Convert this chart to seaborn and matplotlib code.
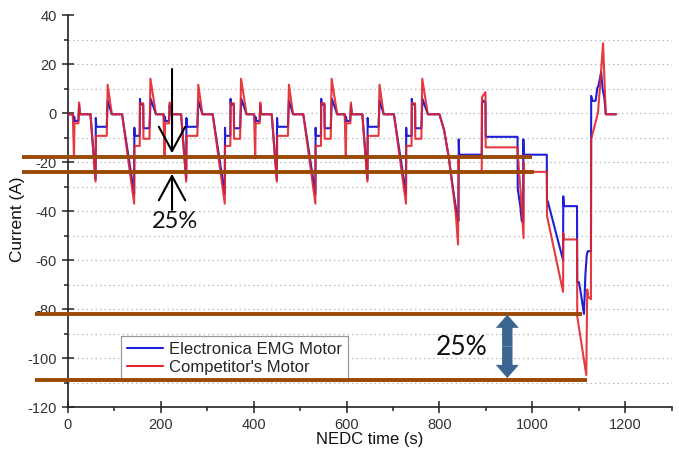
import numpy as np
import pandas as pd
import matplotlib
matplotlib.use("Agg")
import matplotlib.pyplot as plt
import seaborn as sns
from matplotlib.ticker import MultipleLocator

# ---------------- data ----------------
# ECE-15 urban sub-cycle (195 s); NEDC repeats it four times
ece_t_blue = [0, 11, 13.5, 14, 15, 23, 24.5, 26.5, 49, 60, 60.5, 61.5, 84, 86, 95,
              117, 143, 143.5, 144, 155, 155.5, 156.5, 162.5, 163, 176, 178.5, 190, 195]
ece_blue = [-0.5, -0.5, -3.5, -1.5, -3.2, -3.2, 3.2, -0.5, -0.5, -27, -2, -5.6, -5.6, 5, -0.5,
            -0.5, -33, -6, -9.3, -9.3, 5.8, 3.5, 3.5, -6.2, -6.2, 5.8, -0.5, -0.5]
ece_t_red = [0, 11, 13.5, 14.5, 23, 24.5, 26.5, 49, 60, 61, 84, 86, 95,
             117, 143, 143.5, 155, 155.5, 162.5, 163, 176, 178, 190, 195]
ece_red = [-0.5, -0.5, -18.5, -4.2, -4.2, 4.3, -0.5, -0.5, -28, -9.3, -9.3, 11.6, -0.5,
           -0.5, -37, -13.4, -13.4, 4, 4, -10.5, -10.5, 14, -0.5, -0.5]
ece_starts = [0, 195, 390, 585]

# EUDC extra-urban part (absolute time, s)
eudc_t_blue = [800, 810, 820, 830, 834, 838, 841, 841.5, 842.5, 891, 891.5, 895, 899, 899.5,
               968, 968.5, 974, 977, 980, 980.5, 981.5, 1031, 1031.5, 1033, 1066, 1066.5,
               1067.5, 1096, 1096.5, 1100, 1103, 1111, 1114, 1117, 1119, 1126, 1126.5,
               1129, 1136, 1140, 1142, 1148, 1151, 1155, 1158, 1180]
eudc_blue = [-0.5, -7, -18, -32, -37, -42, -44, -10.7, -17, -17, 4, 5, 4.4, -9.7,
             -9.7, -31, -38, -44, -44.5, -10.7, -17, -17, -36, -36, -60, -34,
             -38, -38, -69, -69, -72, -82, -66, -58, -56.4, -56.4, 7,
             5, 5, 10.5, 11, 16.7, 10, 6, -0.5, -0.5]
eudc_t_red = [800, 810, 820, 830, 835, 840, 841, 842.5, 891, 891.5, 895, 899, 899.5,
              968, 969, 975, 981, 981.5, 982.5, 1031, 1031.5, 1066, 1066.5, 1067.5,
              1096, 1096.5, 1116, 1118, 1120, 1126, 1126.5, 1141, 1146, 1152, 1158, 1180]
eudc_red = [-0.5, -7, -18, -33, -41, -53.7, -19, -24, -24, 6.5, 7.5, 8.5, -14,
            -14, -18, -33, -51, -20, -24, -24, -42, -73, -49, -51.6,
            -51.6, -83, -107, -72, -75, -76, -10.7, 0, 12, 28.5, -0.5, -0.5]

series_labels = ["Electronica EMG Motor", "Competitor's Motor"]

# reference (brown) levels and their horizontal extents
ref_levels = [-17.8, -24.2, -81.9, -108.8]
ref_x_start = [-98, -98, -70, -70]
ref_x_end = [1000, 1003, 1107, 1118]
pct_text = "25%"


def build(t_cycle, v_cycle, t_tail, v_tail):
    tt, vv = [], []
    for s in ece_starts:
        tt += [s + t for t in t_cycle]
        vv += list(v_cycle)
    tt += list(t_tail)
    vv += list(v_tail)
    return tt, vv


tb, vb = build(ece_t_blue, ece_blue, eudc_t_blue, eudc_blue)
tr, vr = build(ece_t_red, ece_red, eudc_t_red, eudc_red)
df_blue = pd.DataFrame({"time": tb, "current": vb})
df_red = pd.DataFrame({"time": tr, "current": vr})

# ---------------- styling ----------------
sns.set_theme(style="white")
plt.rcParams["font.family"] = ["Liberation Sans", "DejaVu Sans"]
plt.rcParams["axes.unicode_minus"] = False

fig = plt.figure(figsize=(6.79, 4.57), dpi=100)
ax = fig.add_axes([0.0997, 0.1094, 0.9894 - 0.0997, 0.967 - 0.1094])

blue_c = "#1f1fd6"
red_c = "#e3242b"
brown_c = "#9a4a05"

ax.set_xlim(0, 1300)
ax.set_ylim(-120, 40)

for g in np.arange(-110, 31, 10):
    ax.axhline(g, color="#bdbdbd", lw=0.9, ls=(0, (1.2, 2.4)), zorder=0)

sns.lineplot(data=df_blue, x="time", y="current", estimator=None, sort=False,
             color=blue_c, lw=1.5, ax=ax, label=series_labels[0], zorder=3)
sns.lineplot(data=df_red, x="time", y="current", estimator=None, sort=False,
             color=red_c, lw=1.5, alpha=0.9, ax=ax, label=series_labels[1], zorder=4)

for y, x0, x1 in zip(ref_levels, ref_x_start, ref_x_end):
    ax.plot([x0, x1], [y, y], color=brown_c, lw=2.8, clip_on=False, zorder=7,
            solid_capstyle="butt")

# black arrows pointing at the top pair of levels
for tip, tail in ((-16.4, 18), (-24.8, -39.5)):
    ax.annotate("", xy=(224.5, tip), xytext=(224.5, tail),
                arrowprops=dict(arrowstyle="->,head_length=1.75,head_width=0.95",
                                lw=1.5, color="black", shrinkA=0, shrinkB=0,
                                mutation_scale=10), zorder=8)
ax.text(231, -44.3, pct_text, fontsize=17, family=["Lato", "DejaVu Sans"],
        ha="center", va="center", color="#111111", zorder=8)

# thick blue double arrow
arr_c = "#3b6591"
mid = -95.25
for yend in (-82.3, -108.2):
    ax.annotate("", xy=(946, yend), xytext=(946, mid),
                arrowprops=dict(arrowstyle="simple,head_length=0.95,head_width=1.65,tail_width=0.75",
                                color=arr_c, lw=0, shrinkA=0, shrinkB=0,
                                mutation_scale=10), zorder=8)
ax.text(847, -95.9, pct_text, fontsize=19, family=["Lato", "DejaVu Sans"],
        ha="center", va="center", color="#111111", zorder=8)

# axes, ticks
ax.xaxis.set_major_locator(MultipleLocator(200))
ax.xaxis.set_minor_locator(MultipleLocator(100))
ax.yaxis.set_major_locator(MultipleLocator(20))
ax.yaxis.set_minor_locator(MultipleLocator(10))
ax.tick_params(which="major", direction="inout", length=8, width=1.1, color="#222222",
               labelsize=10.5, labelcolor="#333333", pad=4,
               bottom=True, left=True)
ax.tick_params(which="minor", direction="out", length=3, width=1.1, color="#222222",
               bottom=True, left=True)
for side in ("top", "right"):
    ax.spines[side].set_visible(False)
for side in ("left", "bottom"):
    ax.spines[side].set_color("#222222")
    ax.spines[side].set_linewidth(1.2)

ax.set_xlabel("NEDC time (s)", fontsize=12, color="#111111", labelpad=0)
ax.set_ylabel("Current (A)", fontsize=12.4, color="#111111")
ax.yaxis.set_label_coords(-0.07, 0.48)

leg = ax.legend(loc="lower left", bbox_to_anchor=(0.088, 0.066), borderaxespad=0,
                fancybox=False, edgecolor="#9a9a9a", framealpha=1, fontsize=12,
                handlelength=2.2, handletextpad=0.35, labelspacing=0.2,
                borderpad=0.35)
leg.get_frame().set_linewidth(0.9)
leg.set_zorder(5)
for h in leg.get_lines():
    h.set_linewidth(1.5)
    h.set_alpha(1)

fig.savefig("out.png", dpi=100)
